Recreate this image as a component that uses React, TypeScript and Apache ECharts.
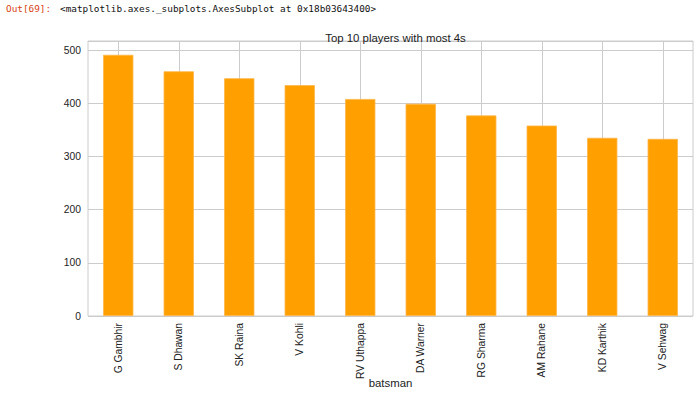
import React, { useEffect, useRef } from "react";
import * as echarts from "echarts";

const batsmen = [
  "G Gambhir",
  "S Dhawan",
  "SK Raina",
  "V Kohli",
  "RV Uthappa",
  "DA Warner",
  "RG Sharma",
  "AM Rahane",
  "KD Karthik",
  "V Sehwag",
];
const fours = [491, 460, 447, 434, 408, 399, 377, 358, 335, 333];
const yTicks = [0, 100, 200, 300, 400, 500];

export default function App() {
  const ref = useRef<HTMLDivElement>(null);
  useEffect(() => {
    document.body.style.margin = "0";
    const chart = echarts.init(ref.current!, null, { renderer: "svg" });
    const font = "'Liberation Sans', Arial, sans-serif";
    chart.setOption({
      animation: false,
      backgroundColor: "#ffffff",
      title: {
        text: "Top 10 players with most 4s",
        left: 390.5,
        top: 27,
        textAlign: "center",
        textStyle: { fontFamily: font, fontSize: 11.4, fontWeight: "normal", color: "#222" },
      },
      graphic: [
        {
          type: "text",
          left: 6,
          top: 4,
          style: {
            text: "Out[69]:",
            fill: "#d84315",
            font: "9.4px 'DejaVu Sans Mono', monospace",
          },
        },
        {
          type: "text",
          left: 60,
          top: 4,
          style: {
            text: "<matplotlib.axes._subplots.AxesSubplot at 0x18b03643400>",
            fill: "#111",
            font: "9.4px 'DejaVu Sans Mono', monospace",
          },
        },
        {
          type: "text",
          x: 390.5,
          y: 383,
          style: {
            text: "batsman",
            fill: "#222",
            font: "11.4px 'Liberation Sans', Arial, sans-serif",
            align: "center",
            verticalAlign: "middle",
          },
        },
      ],
      grid: {
        left: 88,
        right: 7,
        top: 41,
        bottom: 79,
        show: true,
        borderColor: "#cccccc",
        borderWidth: 1,
        outerBoundsMode: "none",
        containLabel: false,
      },
      xAxis: {
        type: "category",
        data: batsmen,
        axisLine: { show: false },
        axisTick: { show: false, alignWithLabel: true },
        axisLabel: {
          rotate: 90,
          fontFamily: font,
          fontSize: 10.3,
          color: "#222",
          margin: 7,
          interval: 0,
        },
        splitLine: {
          show: true,
          alignWithLabel: true,
          lineStyle: { color: "#cccccc", width: 1 },
        },
      },
      yAxis: {
        type: "value",
        min: 0,
        max: 517,
        interval: 100,
        axisLine: { show: false },
        axisTick: { show: false },
        axisLabel: {
          fontFamily: font,
          fontSize: 10.3,
          color: "#222",
          margin: 7,
          showMaxLabel: false,
          formatter: (v: number) => (yTicks.includes(v) ? String(v) : ""),
        },
        splitLine: { show: true, lineStyle: { color: "#cccccc", width: 1 } },
      },
      series: [
        {
          type: "bar",
          data: fours,
          barWidth: "50%",
          itemStyle: { color: "#ffa000", borderColor: "#ffb547", borderWidth: 0.8 },
        },
      ],
    });
    return () => chart.dispose();
  }, []);
  return <div ref={ref} style={{ width: 700, height: 395 }} />;
}
